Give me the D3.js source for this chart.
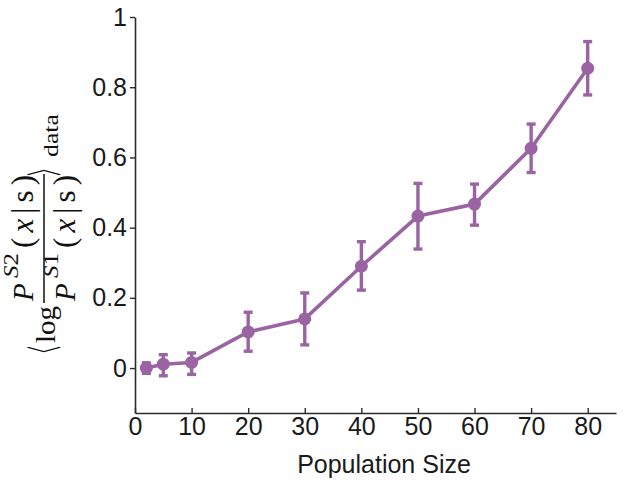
<!DOCTYPE html>
<html>
<head>
<meta charset="utf-8">
<script src="https://cdn.jsdelivr.net/npm/d3@7"></script>
<style>
  html, body { margin: 0; padding: 0; background: #fff; }
  svg { display: block; }
</style>
</head>
<body>
<svg id="chart" width="634" height="487"></svg>
<script>
// ---- data ----
const popSize  = [2, 5, 10, 20, 30, 40, 50, 60, 70, 80];
const meanVal  = [0.0, 0.011, 0.016, 0.103, 0.14, 0.29, 0.433, 0.467, 0.626, 0.854];
const errLow   = [-0.015, -0.022, -0.018, 0.048, 0.066, 0.222, 0.339, 0.407, 0.557, 0.778];
const errHigh  = [0.015, 0.038, 0.043, 0.159, 0.214, 0.36, 0.526, 0.524, 0.695, 0.93];
const xTicks = [0, 10, 20, 30, 40, 50, 60, 70, 80];
const xTickLabels = ["0", "10", "20", "30", "40", "50", "60", "70", "80"];
const yTicks = [0, 0.2, 0.4, 0.6, 0.8, 1];
const yTickLabels = ["0", "0.2", "0.4", "0.6", "0.8", "1"];
const xLabel = "Population Size";

const color = "#9a64a2";
const svg = d3.select("#chart");

const x = d3.scaleLinear().domain([0, 85]).range([135, 616]);
const y = d3.scaleLinear().domain([-0.128, 1]).range([413, 17]);

const data = popSize.map((p, i) => ({ p, m: meanVal[i], lo: errLow[i], hi: errHigh[i] }));

// axes
const xAxis = d3.axisBottom(x).tickValues(xTicks)
  .tickFormat((d, i) => xTickLabels[i]).tickSizeInner(-5).tickSizeOuter(0).tickPadding(4);
const yAxis = d3.axisLeft(y).tickValues(yTicks)
  .tickFormat((d, i) => yTickLabels[i]).tickSizeInner(5).tickSizeOuter(0).tickPadding(3);

const gx = svg.append("g").attr("transform", `translate(0,${y.range()[0]})`).call(xAxis);
const gy = svg.append("g").attr("transform", `translate(${x.range()[0]},0)`).call(yAxis);
[gx, gy].forEach(g => {
  g.select(".domain").attr("stroke", "#2b2b2b").attr("stroke-width", 1.6);
  g.selectAll(".tick line").attr("stroke", "#2b2b2b").attr("stroke-width", 1.4);
  g.selectAll(".tick text").attr("fill", "#1a1a1a")
    .style("font-family", "'Liberation Sans', Arial, Helvetica, sans-serif")
    .style("font-size", "25px");
});

// x label
svg.append("text")
  .attr("x", 384)
  .attr("y", 473)
  .attr("text-anchor", "middle")
  .attr("fill", "#1a1a1a")
  .style("font-family", "'Liberation Sans', Arial, Helvetica, sans-serif")
  .style("font-size", "25px")
  .text(xLabel);

// line
const line = d3.line().x(d => x(d.p)).y(d => y(d.m));
svg.append("path").datum(data)
  .attr("fill", "none").attr("stroke", color).attr("stroke-width", 3.6)
  .attr("stroke-linejoin", "round")
  .attr("d", line);

// error bars
const eb = svg.append("g").attr("stroke", color).attr("stroke-width", 3.4);
eb.selectAll("line.v").data(data).join("line").attr("class", "v")
  .attr("x1", d => x(d.p)).attr("x2", d => x(d.p))
  .attr("y1", d => y(d.lo)).attr("y2", d => y(d.hi));
eb.selectAll("line.t").data(data).join("line").attr("class", "t")
  .attr("x1", d => x(d.p) - 4.5).attr("x2", d => x(d.p) + 4.5)
  .attr("y1", d => y(d.hi)).attr("y2", d => y(d.hi));
eb.selectAll("line.b").data(data).join("line").attr("class", "b")
  .attr("x1", d => x(d.p) - 4.5).attr("x2", d => x(d.p) + 4.5)
  .attr("y1", d => y(d.lo)).attr("y2", d => y(d.lo));

// markers
svg.append("g").selectAll("circle").data(data).join("circle")
  .attr("cx", d => x(d.p)).attr("cy", d => y(d.m)).attr("r", 6.5)
  .attr("fill", color);

// y label (math), rotated; local coords: lx = -screenY, ly = screenX
const lab = svg.append("g").attr("transform", "rotate(-90)")
  .attr("fill", "#111")
  .style("font-family", "'Liberation Serif', 'DejaVu Serif', serif");

lab.append("text").attr("x", -361).attr("y", 58).style("font-size", "36px")
  .style("font-family", "'Noto Sans CJK JP', 'DejaVu Sans', serif").style("font-weight", "400")
  .attr("textLength", 15).attr("lengthAdjust", "spacingAndGlyphs").text("\u3008");
lab.append("text").attr("x", -343).attr("y", 55).style("font-size", "28px")
  .attr("textLength", 37).attr("lengthAdjust", "spacingAndGlyphs").text("log");

// fraction bar
lab.append("line").attr("x1", -303).attr("x2", -174).attr("y1", 44).attr("y2", 44)
  .attr("stroke", "#111").attr("stroke-width", 1.5);

function frac(baseY, supY, supDigit) {
  lab.append("text").attr("x", -301).attr("y", baseY).style("font-size", "29px")
    .style("font-style", "italic").text("P");
  const s = lab.append("text").attr("x", -278).attr("y", supY).style("font-size", "21px")
    .attr("textLength", 25).attr("lengthAdjust", "spacingAndGlyphs");
  s.append("tspan").style("font-style", "italic").text("S");
  s.append("tspan").text(supDigit);
  const t = lab.append("text").attr("x", -248).attr("y", baseY).style("font-size", "31px")
    .attr("textLength", 73).attr("lengthAdjust", "spacing");
  t.append("tspan").text("(");
  t.append("tspan").style("font-style", "italic").text("x");
  t.append("tspan").text("|s)");
}
frac(33, 18, "2");
frac(75, 58, "1");

lab.append("text").attr("x", -176).attr("y", 58).style("font-size", "36px")
  .style("font-family", "'Noto Sans CJK JP', 'DejaVu Sans', serif").style("font-weight", "400")
  .attr("textLength", 15).attr("lengthAdjust", "spacingAndGlyphs").text("\u3009");
lab.append("text").attr("x", -157).attr("y", 58).style("font-size", "22px")
  .attr("textLength", 43).attr("lengthAdjust", "spacingAndGlyphs").text("data");
</script>
</body>
</html>
